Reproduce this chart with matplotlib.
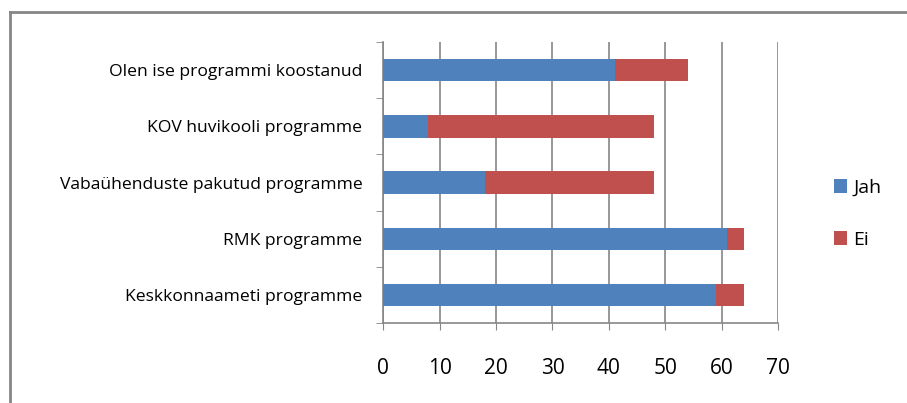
import matplotlib.pyplot as plt
from matplotlib.lines import Line2D
import numpy as np

categories = ['Keskkonnaameti programme', 'RMK programme',
              'Vabaühenduste pakutud programme', 'KOV huvikooli programme',
              'Olen ise programmi koostanud']
jah = [59, 61, 18, 8, 41]
ei = [5, 3, 30, 40, 13]

BLUE = '#4f81bd'
RED = '#c0504d'
GRID = '#868686'

plt.rcParams['font.family'] = ['Open Sans', 'DejaVu Sans']

fig = plt.figure(figsize=(9.07, 4.03), dpi=100)
ax = fig.add_axes([0.4225, 0.198, 0.4355, 0.698])

y = np.arange(len(categories))
ax.barh(y, jah, height=0.4, color=BLUE, label='Jah', zorder=3)
ax.barh(y, ei, left=jah, height=0.4, color=RED, label='Ei', zorder=3)

ax.set_xlim(0, 70)
ax.set_ylim(-0.5, len(categories) - 0.5)
ax.set_xticks(range(0, 71, 10))
ax.tick_params(axis='x', labelsize=15, length=5, color=GRID, pad=20)
ax.set_yticks(y)
ax.set_yticklabels(categories, fontsize=12.6)
ax.tick_params(axis='y', length=0, pad=15)
ax.set_yticks(np.arange(-0.5, len(categories)), minor=True)
ax.tick_params(axis='y', which='minor', length=5, color=GRID)
ax.xaxis.grid(True, color=GRID, linewidth=1.2, zorder=0)
for s in ['top', 'right']:
    ax.spines[s].set_visible(False)
for s in ['left', 'bottom']:
    ax.spines[s].set_color(GRID)
    ax.spines[s].set_linewidth(1.2)

handles, labels = ax.get_legend_handles_labels()
fig.legend(handles, labels, loc='center left', bbox_to_anchor=(0.9, 0.47),
           frameon=False, fontsize=14, handlelength=0.7, handleheight=0.7,
           handletextpad=0.3, labelspacing=1.75)

# chart frame: only top and left edges show in the picture
fig.add_artist(Line2D([0.0105, 1.0], [0.970, 0.970], transform=fig.transFigure,
                      color=GRID, linewidth=2))
fig.add_artist(Line2D([0.0105, 0.0105], [0.0, 0.970], transform=fig.transFigure,
                      color=GRID, linewidth=2))

fig.savefig('out.png', dpi=100)
